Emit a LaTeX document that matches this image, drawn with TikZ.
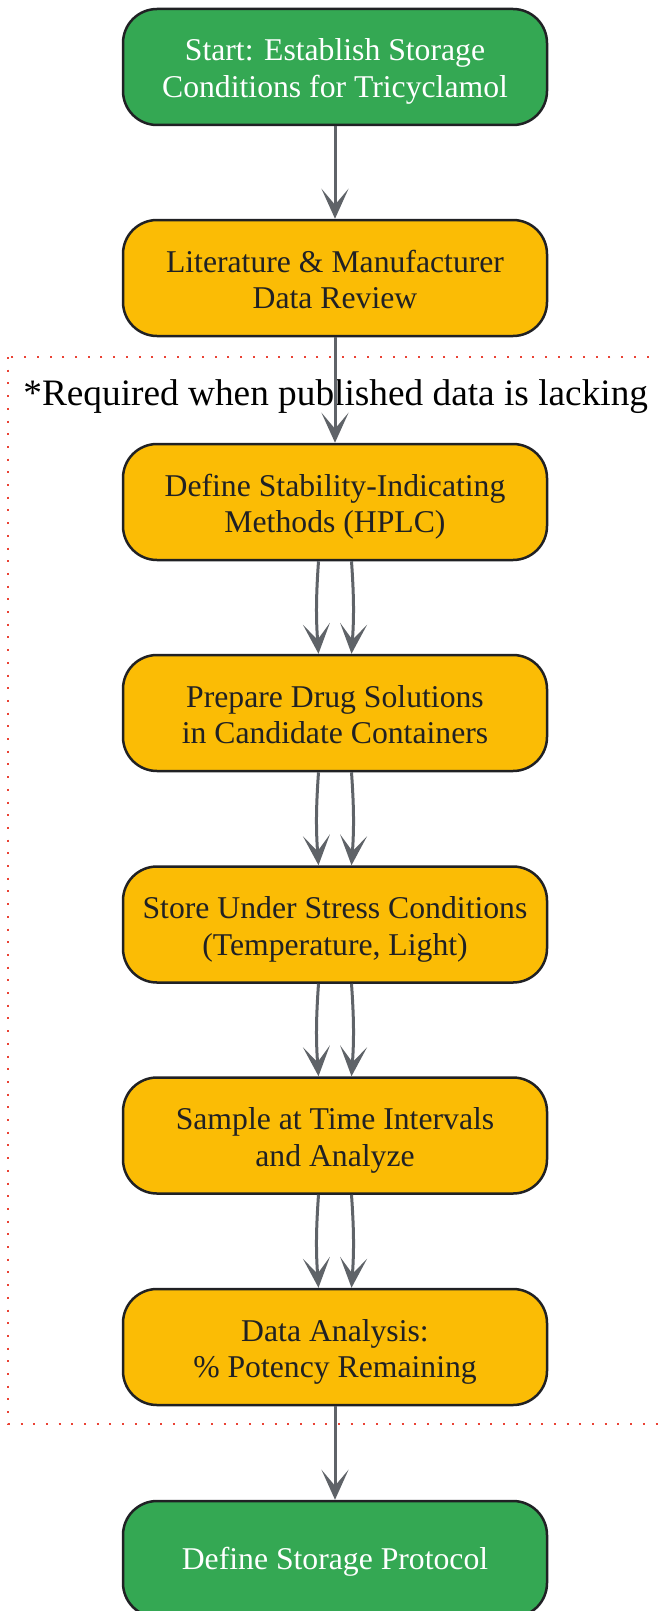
\documentclass[tikz,border=0pt]{standalone}
\usepackage{fontspec}
\setmainfont{Liberation Serif}
\usetikzlibrary{arrows.meta}
\definecolor{nodegreen}{HTML}{34A853}
\definecolor{nodeyellow}{HTML}{FBBC05}
\definecolor{edgegray}{HTML}{5F6368}
\definecolor{borderdark}{HTML}{202124}
\definecolor{clusterred}{HTML}{EA4335}
\begin{document}
\begin{tikzpicture}[x=0.5pt,y=-0.5pt,
  box/.style={draw=borderdark, line width=1.25pt, rounded corners=17pt, minimum width=212pt, minimum height=58pt, align=center, font=\fontsize{15.85pt}{18.35pt}\selectfont, inner sep=0pt, text height=30.7pt, text depth=0pt},
  oneline/.style={text height=10.3pt},
  startbox/.style={box, fill=nodegreen, text=white},
  procbox/.style={box, fill=nodeyellow, text=borderdark},
  flow/.style={draw=edgegray, line width=1.5pt, -{Stealth[length=15pt,width=13.5pt,inset=8pt]}},
  cluster/.style={draw=clusterred, line width=1pt, dash pattern=on 1pt off 5.35pt},
  clusterlabel/.style={font=\fontsize{18.65pt}{22pt}\selectfont, inner sep=0pt, anchor=base west}
]
\useasboundingbox (0,0) rectangle (658,1611);

\draw[cluster] (8,357) rectangle (690,1424);
\node[clusterlabel] (lbl) at (23,405) {*Required when published data is lacking};

\node[startbox] (n1) at (335,67) {Start: Establish Storage\\Conditions for Tricyclamol};
\node[procbox] (n2) at (335,278) {Literature \& Manufacturer\\Data Review};
\node[procbox] (n3) at (335,502) {Define Stability-Indicating\\Methods (HPLC)};
\node[procbox] (n4) at (335,713) {Prepare Drug Solutions\\in Candidate Containers};
\node[procbox] (n5) at (335,924.5) {Store Under Stress Conditions\\(Temperature, Light)};
\node[procbox] (n6) at (335,1135.5) {Sample at Time Intervals\\and Analyze};
\node[procbox] (n7) at (335,1347) {Data Analysis:\\\% Potency Remaining};
\node[startbox, oneline] (n8) at (335,1559) {Define Storage Protocol};

\draw[flow] (n1.south) -- (n2.north);
\draw[flow] (n2.south) -- (n3.north);
\foreach \a/\b in {n3/n4,n4/n5,n5/n6,n6/n7}{
  \draw[flow] ([xshift=-8.25pt]\a.south) to[bend right=4] ([xshift=-8.25pt]\b.north);
  \draw[flow] ([xshift=8.25pt]\a.south) to[bend left=4] ([xshift=8.25pt]\b.north);
}
\draw[flow] (n7.south) -- (n8.north);
\end{tikzpicture}
\end{document}
